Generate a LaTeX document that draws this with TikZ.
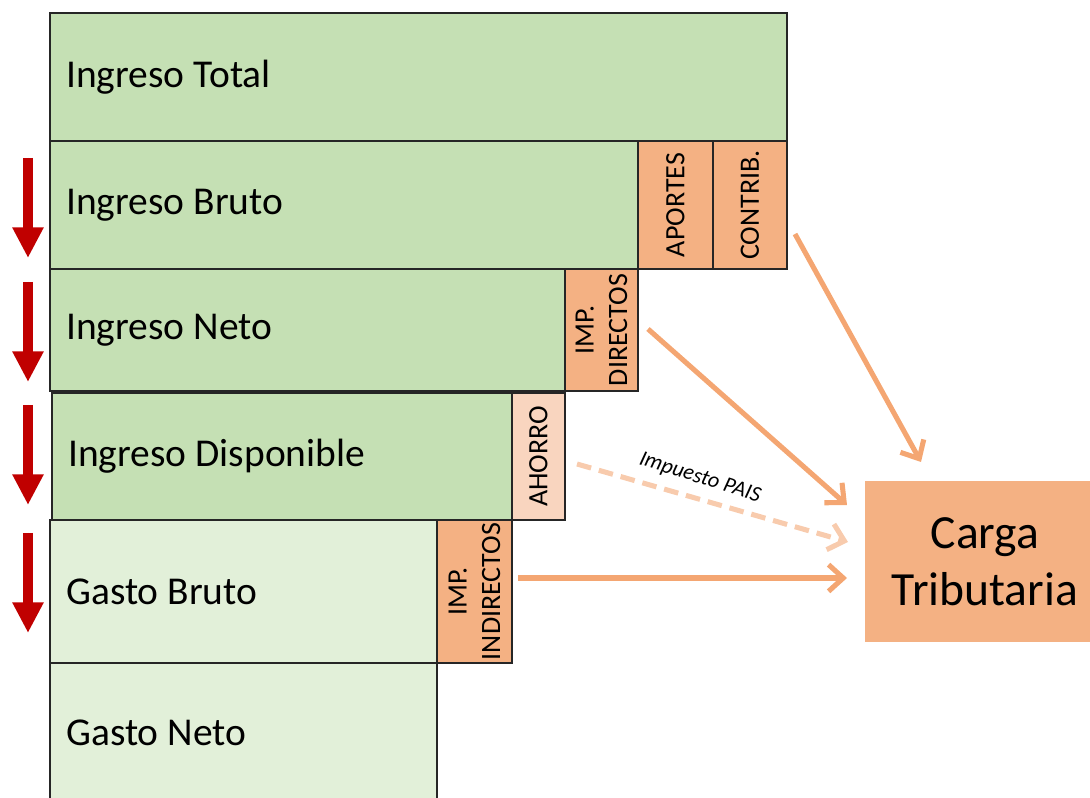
\documentclass[tikz,border=0pt]{standalone}
\usepackage{fontspec}
\setmainfont{Carlito}
\usetikzlibrary{arrows.meta,fit}
\definecolor{gDark}{HTML}{C5E0B4}
\definecolor{gLight}{HTML}{E2F0D9}
\definecolor{orBox}{HTML}{F4B183}
\definecolor{orLine}{HTML}{F4A672}
\definecolor{orPale}{HTML}{F9D5BF}
\definecolor{orDash}{HTML}{F8CBAD}
\definecolor{redArr}{HTML}{C00000}
\definecolor{edgeC}{HTML}{262626}
\begin{document}
\begin{tikzpicture}[x=0.75pt,y=-0.75pt,
  blk/.style={draw=edgeC, line width=1.1pt, inner sep=0pt, outer sep=0pt},
  lbl/.style={font=\fontsize{29.6}{34}\selectfont, anchor=west, inner sep=0pt, xshift=12pt},
  vlbl/.style={font=\fontsize{21}{25}\selectfont, rotate=90, align=center},
  flow/.style={draw=orLine, line width=3.8pt,
    -{Straight Barb[length=11pt,width=20pt,line width=3.8pt]}},
  dflow/.style={draw=orDash, line width=3.8pt, dash pattern=on 11pt off 6pt,
    -{Straight Barb[length=11pt,width=20pt,line width=3.8pt]}},
  downarr/.style={draw=redArr, fill=redArr, line width=7.5pt,
    -{Triangle[length=23pt,width=22pt]}}
]
\useasboundingbox (0,0) rectangle (1090,798);

% income / expense bars
\node[blk, fill=gDark, fit={(50,13) (787,141)}, label={[lbl]west:Ingreso Total}] (total) {};
\node[blk, fill=gDark, fit={(50,141) (638,269)}, label={[lbl]west:Ingreso Bruto}] (bruto) {};
\node[blk, fill=orBox, fit={(638,141) (713,269)}] (aportes) {};
\node[vlbl] at (aportes.center) {APORTES};
\node[blk, fill=orBox, fit={(713,141) (787,269)}] (contrib) {};
\node[vlbl] at (contrib.center) {CONTRIB.};

\node[blk, fill=gDark, fit={(50,269) (565,391)}, label={[lbl]west:Ingreso Neto}] (neto) {};
\node[blk, fill=orBox, fit={(565,269) (638,391)}] (impdir) {};
\node[vlbl] at (impdir.center) {IMP.\\DIRECTOS};

\node[blk, fill=gDark, fit={(52,393) (512,520)}, label={[lbl]west:Ingreso Disponible}] (disp) {};
\node[blk, fill=orPale, fit={(512,393) (565,520)}] (ahorro) {};
\node[vlbl] at (ahorro.center) {AHORRO};

\node[blk, fill=gLight, fit={(50,520) (437,663)}, label={[lbl]west:Gasto Bruto}] (gbruto) {};
\node[blk, fill=orBox, fit={(437,520) (512,663)}] (impind) {};
\node[vlbl] at (impind.center) {IMP.\\INDIRECTOS};

\node[blk, fill=gLight, fit={(50,663) (437,803)}, label={[lbl]west:Gasto Neto}] (gneto) {};

% Carga Tributaria
\node[fill=orBox, inner sep=0pt, fit={(865,481) (1105,642)}] (carga) {};
\node[font=\fontsize{35.7}{43}\selectfont, align=center] at (carga.center) {Carga\\Tributaria};

% connector end points
\coordinate (c1s) at (795,234);
\coordinate (c1e) at (921,462);
\coordinate (c2s) at (648,329);
\coordinate (c2e) at (847,505);
\coordinate (c3s) at (577,464);
\coordinate (c3e) at (848,542);
\coordinate (c4s) at (518,578);
\coordinate (c4e) at (847,578);

\draw[flow] (c1s) -- (c1e);
\draw[flow] (c2s) -- (c2e);
\draw[dflow] (c3s) -- (c3e);
\draw[flow] (c4s) -- (c4e);
\node[font=\itshape\fontsize{16.5}{19}\selectfont, rotate=-17.5, inner sep=0pt] (pais) at (700,478) {Impuesto PAIS};

% red down arrows
\coordinate (r1s) at (28,158); \coordinate (r1e) at (28,258);
\coordinate (r2s) at (28,282); \coordinate (r2e) at (28,382);
\coordinate (r3s) at (28,405); \coordinate (r3e) at (28,505);
\coordinate (r4s) at (28,533); \coordinate (r4e) at (28,633);
\draw[downarr] (r1s) -- (r1e);
\draw[downarr] (r2s) -- (r2e);
\draw[downarr] (r3s) -- (r3e);
\draw[downarr] (r4s) -- (r4e);
\end{tikzpicture}
\end{document}
